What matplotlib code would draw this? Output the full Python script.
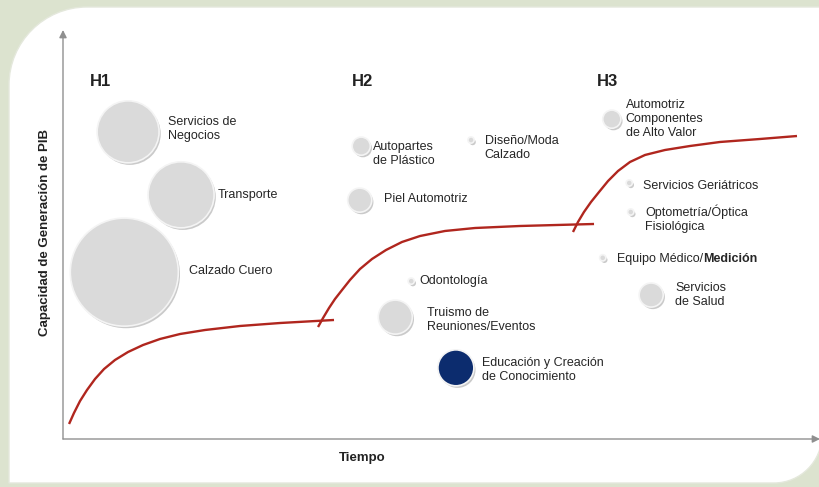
import matplotlib
matplotlib.use('Agg')
import matplotlib.pyplot as plt
import matplotlib.patheffects as pe
from matplotlib.path import Path
from matplotlib.patches import PathPatch

plt.rcParams['font.family'] = ['Liberation Sans', 'DejaVu Sans']

# sectores: posicion en el tiempo, capacidad de generacion de PIB y tamaño de burbuja
sectores = ['Servicios de\nNegocios', 'Transporte', 'Calzado Cuero',
            'Autopartes\nde Plástico', 'Diseño/Moda\nCalzado', 'Piel Automotriz',
            'Odontología', 'Truismo de\nReuniones/Eventos',
            'Educación y Creación\nde Conocimiento',
            'Automotriz\nComponentes\nde Alto Valor', 'Servicios Geriátricos',
            'Optometría/Óptica\nFisiológica', 'Equipo Médico/', 'Servicios\nde Salud']
tiempo = [8.6, 15.6, 8.1, 39.4, 53.9, 39.2, 46.0, 43.9, 51.9, 72.5, 74.8, 75.0, 71.3, 77.7]
capacidad = [75.1, 59.7, 40.8, 71.6, 73.1, 58.4, 38.6, 29.8, 17.4, 78.2, 62.6, 55.5, 44.3, 35.2]
tamano = [1990, 2260, 6050, 170, 20, 300, 20, 600, 670, 170, 20, 20, 20, 300]

horizontes = ['H1', 'H2', 'H3']
horizonte_x = [3.6, 38.2, 70.5]

# curvas S de cada horizonte
curva1_x = [0.8, 1.45, 2.25, 3.17, 4.23, 5.42, 6.87, 8.59, 10.57, 12.81, 15.46, 18.76, 23.38, 28.67, 35.8]
curva1_y = [3.67, 6.36, 9.29, 11.98, 14.67, 17.11, 19.32, 21.27, 22.98, 24.45, 25.67, 26.65, 27.63, 28.36, 29.1]
curva2_x = [33.69, 34.35, 35.14, 35.93, 36.86, 37.91, 39.23, 40.82, 42.67, 44.78, 47.16, 50.46, 54.43, 60.37, 70.15]
curva2_y = [27.38, 29.58, 32.03, 34.23, 36.43, 38.88, 41.56, 44.01, 46.21, 48.17, 49.63, 50.86, 51.59, 52.08, 52.57]
curva3_x = [67.37, 68.03, 68.82, 69.75, 70.81, 72.0, 73.32, 74.9, 76.88, 79.52, 82.83, 86.79, 92.07, 96.96]
curva3_y = [50.61, 53.06, 55.5, 57.95, 60.39, 63.08, 65.53, 67.73, 69.44, 70.66, 71.64, 72.62, 73.35, 74.08]

# desplazamiento de etiquetas (puntos)
offsets = [(28.8, 2.2), (26.6, 0), (46.8, 0.7), (8.6, -5.8), (9.8, -5.8), (17.3, 0.7),
           (6.2, 0), (23, -2.2), (18.7, -1.4), (10, 0), (9.6, -2.2), (10.2, -5),
           (10.2, -0.7), (17.3, 0)]

fig = plt.figure(figsize=(8.2, 4.87), dpi=100)
fig.patch.set_facecolor('#dce3cf')

# panel blanco con esquinas redondeadas
bg = fig.add_axes([0, 0, 1, 1])
bg.set_xlim(0, 820)
bg.set_ylim(487, 0)
bg.axis('off')
r1, r2 = 78, 48
k = 0.55
verts = [(9 + r1, 7), (822, 7), (822, 483 - r2),
         (822, 483 - r2 + k * r2), (822 - r2 + k * r2, 483), (822 - r2, 483),
         (9, 483), (9, 7 + r1),
         (9, 7 + r1 - k * r1), (9 + r1 - k * r1, 7), (9 + r1, 7)]
codes = [Path.MOVETO, Path.LINETO, Path.LINETO,
         Path.CURVE4, Path.CURVE4, Path.CURVE4,
         Path.LINETO, Path.LINETO,
         Path.CURVE4, Path.CURVE4, Path.CURVE4]
bg.add_patch(PathPatch(Path(verts, codes), facecolor='white', edgecolor='#e4e8dc', lw=1))

ax = fig.add_axes([63 / 820, 48 / 487, 757 / 820, 409 / 487])
ax.set_xlim(0, 100)
ax.set_ylim(0, 100)
ax.axis('off')

# ejes con flecha
arrow = dict(arrowstyle='-|>', color='#8f8f8f', lw=1, mutation_scale=11, shrinkA=0, shrinkB=0)
ax.annotate('', xy=(0, 1), xytext=(0, 0), xycoords='axes fraction', arrowprops=arrow, annotation_clip=False)
ax.annotate('', xy=(1, 0), xytext=(0, 0), xycoords='axes fraction', arrowprops=arrow, annotation_clip=False)

rojo = '#b0261e'
for cx, cy in [(curva1_x, curva1_y), (curva2_x, curva2_y), (curva3_x, curva3_y)]:
    ax.plot(cx, cy, color=rojo, lw=1.7, solid_capstyle='butt', solid_joinstyle='round')

colores = ['#dadada'] * len(sectores)
colores[8] = '#0c2c6e'
ax.scatter(tiempo, capacidad, s=tamano, c=colores, edgecolors='#f4f4f4', linewidths=1.2, zorder=3,
           path_effects=[pe.SimplePatchShadow(offset=(1.2, -1.5), shadow_rgbFace='#8a8a8a', alpha=0.45),
                         pe.Normal()])

for i, nombre in enumerate(sectores):
    t = ax.annotate(nombre, (tiempo[i], capacidad[i]), xytext=offsets[i], textcoords='offset points',
                    ha='left', va='center', fontsize=9, color='#262626', linespacing=1.2, zorder=4)
    if nombre == 'Equipo Médico/':
        ax.annotate('Medición', xy=(1, 0), xycoords=t, ha='left', va='bottom',
                    fontsize=9, fontweight='bold', color='#262626')

for h, hx in zip(horizontes, horizonte_x):
    ax.text(hx, 87.5, h, fontsize=12, fontweight='bold', color='#222222', ha='left', va='center')

fig.text(45 / 820, 1 - 232 / 487, 'Capacidad de Generación de PIB', rotation=90,
         ha='center', va='center', fontsize=9.5, fontweight='bold', color='#222222')
fig.text(362 / 820, 1 - 458 / 487, 'Tiempo', ha='center', va='center',
         fontsize=9.5, fontweight='bold', color='#222222')

fig.savefig('out.png', dpi=100, facecolor=fig.get_facecolor())
